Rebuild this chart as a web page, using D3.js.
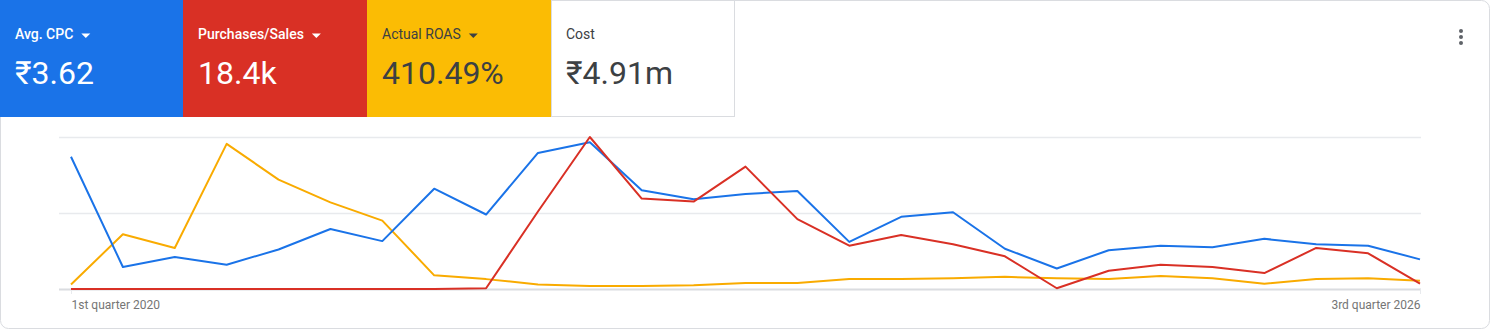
<!DOCTYPE html>
<html>
<head>
<meta charset="utf-8">
<script src="https://cdn.jsdelivr.net/npm/d3@7"></script>
<style>
  body { margin: 0; background: #fff; font-family: Roboto, "Noto Sans", sans-serif; }
</style>
</head>
<body>
<div id="chart"></div>
<script>
// quarters on the x axis
var quarters = [
  "1st quarter 2020", "2nd quarter 2020", "3rd quarter 2020", "4th quarter 2020",
  "1st quarter 2021", "2nd quarter 2021", "3rd quarter 2021", "4th quarter 2021",
  "1st quarter 2022", "2nd quarter 2022", "3rd quarter 2022", "4th quarter 2022",
  "1st quarter 2023", "2nd quarter 2023", "3rd quarter 2023", "4th quarter 2023",
  "1st quarter 2024", "2nd quarter 2024", "3rd quarter 2024", "4th quarter 2024",
  "1st quarter 2025", "2nd quarter 2025", "3rd quarter 2025", "4th quarter 2025",
  "1st quarter 2026", "2nd quarter 2026", "3rd quarter 2026"
];
var tickLabels = ["1st quarter 2020", "3rd quarter 2026"];

// series values (relative scale)
var avgCpc = [1.74, 0.29, 0.42, 0.32, 0.52, 0.79, 0.63, 1.32, 0.98, 1.79, 1.93, 1.30, 1.18, 1.25,
  1.29, 0.62, 0.95, 1.01, 0.53, 0.27, 0.51, 0.57, 0.55, 0.66, 0.59, 0.57, 0.39];
var purchases = [0, 0, 0, 0, 0, 0, 0, 0, 0.01, 1.02, 2.0, 1.19, 1.15, 1.61,
  0.92, 0.57, 0.71, 0.59, 0.43, 0.01, 0.24, 0.32, 0.29, 0.21, 0.54, 0.47, 0.07];
var roas = [0.06, 0.72, 0.54, 1.91, 1.44, 1.14, 0.90, 0.18, 0.13, 0.06, 0.04, 0.04, 0.05, 0.08,
  0.08, 0.13, 0.13, 0.14, 0.16, 0.14, 0.13, 0.17, 0.14, 0.07, 0.13, 0.14, 0.11];

// scorecard tiles
var tileNames = ["Avg. CPC", "Purchases/Sales", "Actual ROAS", "Cost"];
var tileValues = ["₹3.62", "18.4k", "410.49%", "₹4.91m"];

var svgWidth = 1496;
var svgHeight = 330;

var svg = d3.select("#chart")
  .append("svg")
  .attr("width", svgWidth)
  .attr("height", svgHeight);

// card
svg.append("rect")
  .attr("x", 0.5).attr("y", 0.5)
  .attr("width", 1489).attr("height", 328)
  .attr("rx", 8)
  .attr("fill", "#fff")
  .attr("stroke", "#dadce0");

// tiles
var tileStyle = [
  { fill: "#1a73e8", text: "#fff", weight: 500, arrow: true },
  { fill: "#d93025", text: "#fff", weight: 500, arrow: true },
  { fill: "#fbbc04", text: "#3c4043", weight: 400, arrow: true },
  { fill: "#fff", text: "#3c4043", weight: 400, arrow: false }
];
var tileW = 184;

var tiles = svg.selectAll("g.tile")
  .data(tileNames)
  .enter()
  .append("g")
  .attr("class", "tile")
  .attr("transform", (d, i) => `translate(${i * tileW - (i > 0 ? 1 : 0)}, 0)`);

tiles.append("rect")
  .attr("x", (d, i) => i == 3 ? 0.5 : 0)
  .attr("y", (d, i) => i == 3 ? 0.5 : 0)
  .attr("width", (d, i) => i == 3 ? tileW - 1 : tileW)
  .attr("height", (d, i) => i == 3 ? 116 : 117)
  .attr("fill", (d, i) => tileStyle[i].fill)
  .attr("stroke", (d, i) => i == 3 ? "#dadce0" : "none");

tiles.append("text")
  .attr("x", 15)
  .attr("y", 39)
  .attr("font-size", "14px")
  .attr("font-weight", (d, i) => tileStyle[i].weight)
  .attr("fill", (d, i) => tileStyle[i].text)
  .text(d => d);

tiles.append("text")
  .attr("x", 15)
  .attr("y", 84)
  .attr("font-size", "32px")
  .attr("fill", (d, i) => tileStyle[i].text)
  .text((d, i) => tileValues[i]);

// dropdown arrows
tiles.each(function(d, i) {
  if (!tileStyle[i].arrow) return;
  var w = this.querySelector("text").getComputedTextLength();
  d3.select(this).append("path")
    .attr("d", `M${15 + w + 8},33.5 l9,0 l-4.5,4.5 z`)
    .attr("fill", tileStyle[i].text);
});

// menu dots
svg.selectAll("circle.dot")
  .data([31, 37, 43])
  .enter()
  .append("circle")
  .attr("cx", 1461)
  .attr("cy", d => d)
  .attr("r", 2)
  .attr("fill", "#5f6368");

// scales
var x = d3.scalePoint()
  .domain(quarters)
  .range([71, 1420]);

var y = d3.scaleLinear()
  .domain([0, 2])
  .range([289, 137]);

// gridlines
svg.append("g")
  .selectAll("line")
  .data(y.ticks(2))
  .enter()
  .append("line")
  .attr("x1", 59).attr("x2", 1421)
  .attr("y1", d => Math.round(y(d)) + 0.5)
  .attr("y2", d => Math.round(y(d)) + 0.5)
  .attr("stroke", d => d == 0 ? "#dadce0" : "#e8eaed")
  .attr("stroke-width", d => d == 0 ? 2 : 1.5);

// x axis
var xAxis = d3.axisBottom(x)
  .tickValues(tickLabels)
  .tickSize(5)
  .tickPadding(6);

var axisG = svg.append("g")
  .attr("transform", "translate(0, 289)")
  .call(xAxis);
axisG.select(".domain").remove();
axisG.selectAll(".tick line").attr("stroke", "#e8eaed");
axisG.selectAll(".tick text")
  .attr("font-family", "Roboto, sans-serif")
  .attr("font-size", "12px")
  .attr("fill", "#757575")
  .attr("text-anchor", (d, i) => i == 0 ? "start" : "end");

// lines
var line = d3.line()
  .x((d, i) => x(quarters[i]))
  .y(d => y(d));

var series = [
  { values: roas, color: "#f9ab00" },
  { values: avgCpc, color: "#1a73e8" },
  { values: purchases, color: "#d93025" }
];

svg.append("g")
  .selectAll("path")
  .data(series)
  .enter()
  .append("path")
  .attr("d", d => line(d.values))
  .attr("fill", "none")
  .attr("stroke", d => d.color)
  .attr("stroke-width", 2)
  .attr("stroke-linejoin", "round");
</script>
</body>
</html>
